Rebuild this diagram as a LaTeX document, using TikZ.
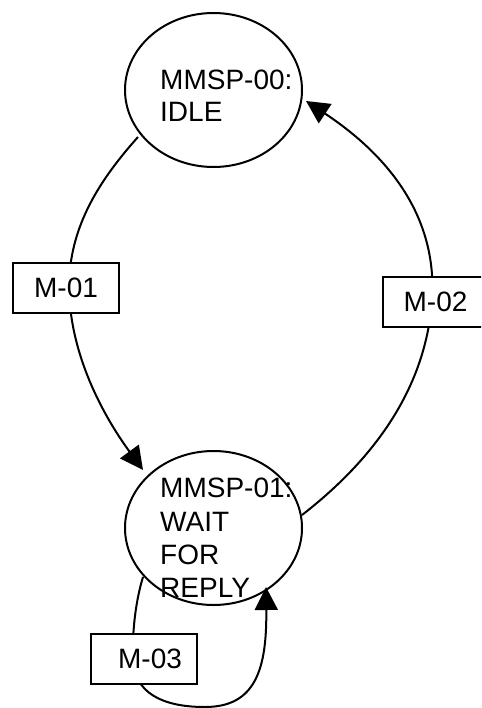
\documentclass[tikz,border=0pt]{standalone}
\usepackage{fontspec}
\setmainfont{Liberation Sans}
\usetikzlibrary{arrows.meta,shapes.geometric}
\begin{document}
\begin{tikzpicture}[x=1pt,y=-1pt,
  state/.style={draw, ellipse, line width=2pt, minimum width=177pt, minimum height=154pt, inner sep=0pt},
  lbl/.style={draw, fill=white, line width=2pt, minimum width=106pt, minimum height=50pt, inner sep=0pt, font=\fontsize{28}{33}\selectfont},
  txt/.style={anchor=base west, inner sep=0pt, font=\fontsize{28}{33}\selectfont},
  conn/.style={line width=2pt, -{Triangle[length=23pt,width=23pt]}}]
\useasboundingbox (0,0) rectangle (481,708);
\clip (0,0) rectangle (481,708);
\fill[white] (0,0) rectangle (481,708);
% states
\node[state] (s0) at (213.5,90) {};
\node[state] (s1) at (213.5,528) {};
% connector end points
\coordinate (a1s) at (138,137);
\coordinate (a1e) at (143,470);
\coordinate (a2s) at (302,515);
\coordinate (a2e) at (306,101);
\coordinate (a3s) at (143,577);
\coordinate (a3e) at (266,587);
% connectors
\draw[conn] (a1s) .. controls (95,185) and (70,230) .. (69,285)
  .. controls (69,360) and (110,425) .. (a1e);
\draw[conn] (a2s) .. controls (360,470) and (425,400) .. (432,300)
  .. controls (438,210) and (380,150) .. (a2e);
\draw[conn] (a3s) .. controls (136,600) and (132,630) .. (133,660)
  .. controls (135,700) and (175,707) .. (205,707)
  .. controls (255,707) and (267,670) .. (a3e);
% labels
\node[lbl] (m1) at (66,287.5) {M-01};
\node[lbl] (m2) at (435.5,302) {M-02};
\node[lbl] (m3) at (144,658.5) {\hspace*{12pt}M-03};
% state texts
\node[txt] (t0a) at (160,90) {MMSP-00:};
\node[txt] (t0b) at (160,122) {IDLE};
\node[txt] (t1a) at (160,497) {MMSP-01:};
\node[txt] (t1b) at (160,531) {WAIT};
\node[txt] (t1c) at (160,564) {FOR};
\node[txt] (t1d) at (160,597) {REPLY};
\end{tikzpicture}
\end{document}
